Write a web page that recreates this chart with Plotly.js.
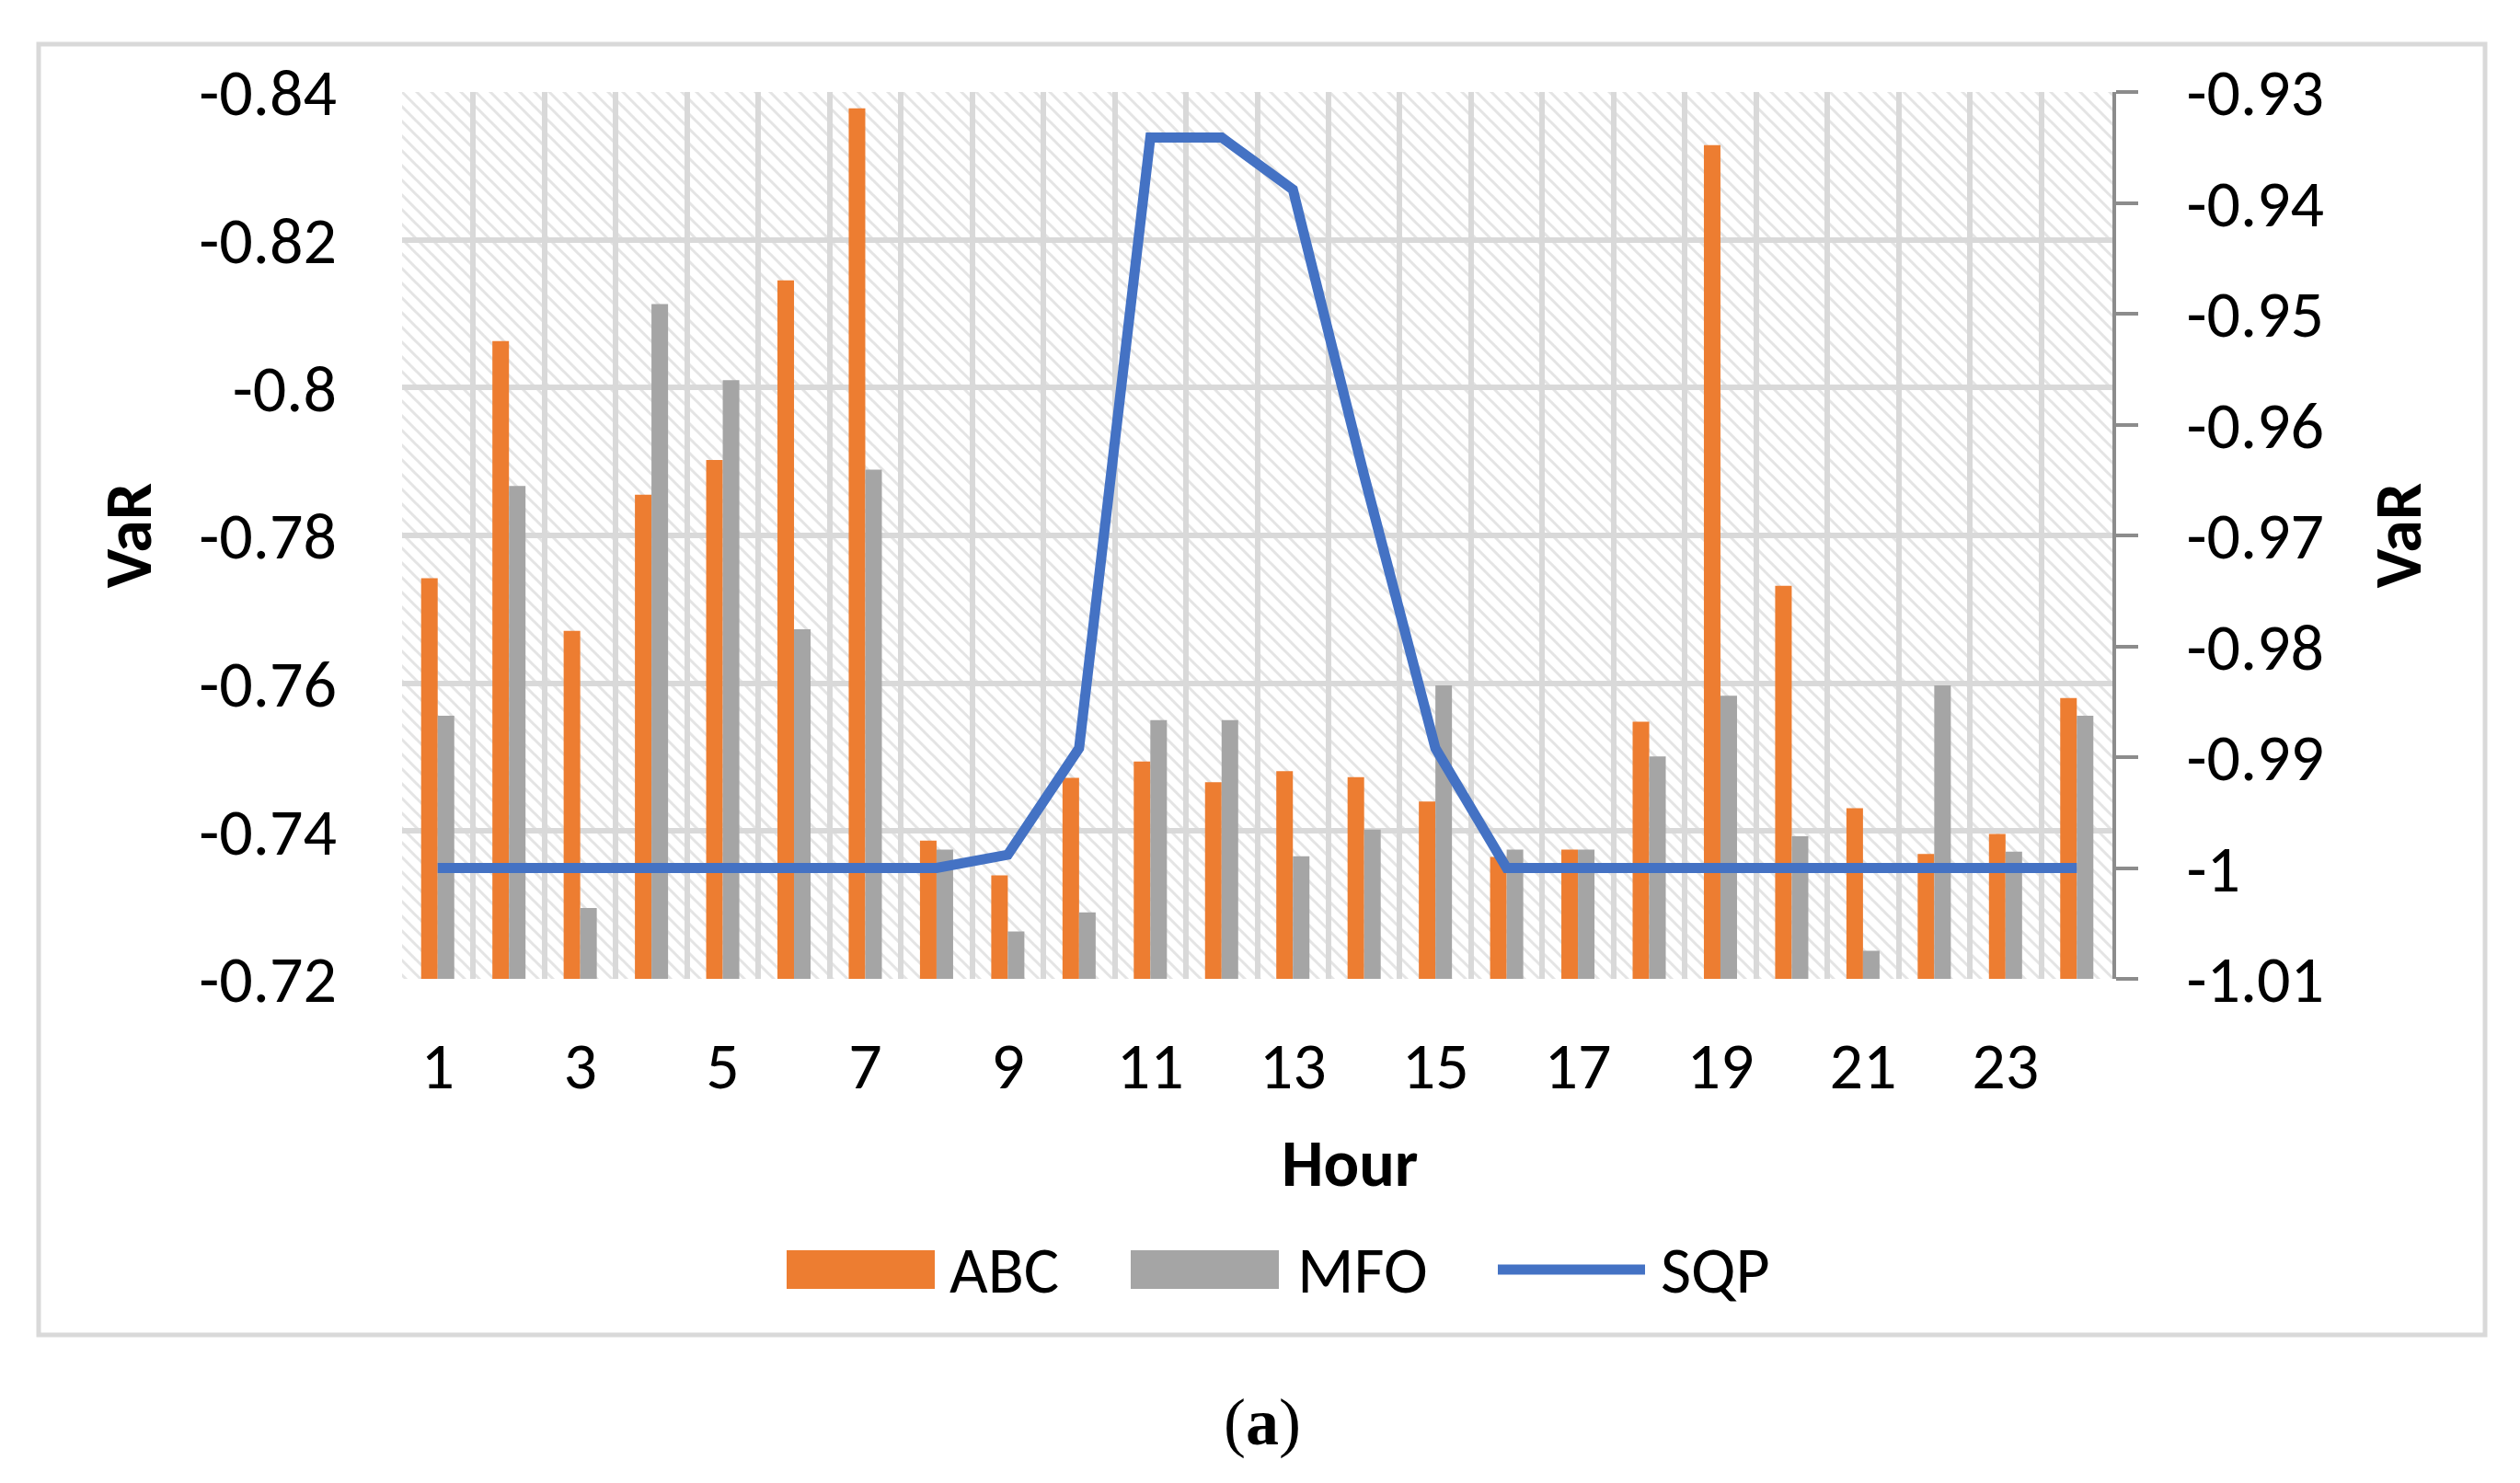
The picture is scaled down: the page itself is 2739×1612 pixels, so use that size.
<!DOCTYPE html>
<html>
<head>
<meta charset="utf-8">
<script src="https://cdn.plot.ly/plotly-3.0.1.min.js"></script>
<style>html,body{margin:0;padding:0;background:#fff;}#chart{width:2739px;height:1612px;}</style>
</head>
<body>
<div id="chart"></div>
<script>
// ---- data ----
const hours = [1,2,3,4,5,6,7,8,9,10,11,12,13,14,15,16,17,18,19,20,21,22,23,24];
const abc = [-0.7742,-0.8063,-0.7671,-0.7855,-0.7902,-0.8145,-0.8378,-0.7387,-0.7340,-0.7472,-0.7494,-0.7466,
             -0.7481,-0.7473,-0.7440,-0.7365,-0.7375,-0.7548,-0.8328,-0.7732,-0.7431,-0.7369,-0.7396,-0.7580];
const mfo = [-0.7556,-0.7867,-0.7296,-0.8113,-0.8010,-0.7673,-0.7889,-0.7375,-0.7264,-0.7290,-0.7550,-0.7550,
             -0.7366,-0.7402,-0.7597,-0.7375,-0.7375,-0.7501,-0.7583,-0.7393,-0.7238,-0.7597,-0.7372,-0.7556];
const sqp = [-1,-1,-1,-1,-1,-1,-1,-1,-0.9988,-0.9892,-0.9341,-0.9341,
             -0.9388,-0.9646,-0.9892,-1,-1,-1,-1,-1,-1,-1,-1,-1];
const xTickVals = [1,3,5,7,9,11,13,15,17,19,21,23];
const xTickText = ['1','3','5','7','9','11','13','15','17','19','21','23'];
const leftTickVals = [-0.84,-0.82,-0.80,-0.78,-0.76,-0.74,-0.72];
const leftTickText = ['-0.84','-0.82','-0.8','-0.78','-0.76','-0.74','-0.72'];
const rightTickVals = [-0.93,-0.94,-0.95,-0.96,-0.97,-0.98,-0.99,-1.00,-1.01];
const rightTickText = ['-0.93','-0.94','-0.95','-0.96','-0.97','-0.98','-0.99','-1','-1.01'];
const seriesNames = ['ABC','MFO','SQP'];
const seriesColors = ['#ED7D31','#A5A5A5','#4472C4'];

// ---- geometry ----
const W = 2739, H = 1612;
const L = 437, R = 2296, T = 100, B = 1064;
const fx = px => (px - L) / (R - L);
const fy = py => (B - py) / (B - T);
const FONT = 'Carlito, Lato, sans-serif';
const GRID = '#D9D9D9';

// hatch background for the plot area (downward diagonal)
const pw = R - L, ph = B - T;
const svg = `<svg xmlns="http://www.w3.org/2000/svg" width="${pw}" height="${ph}" viewBox="0 0 ${pw} ${ph}" preserveAspectRatio="none">` +
  `<defs><pattern id="p" width="16" height="16" patternUnits="userSpaceOnUse">` +
  `<path d="M-4,-4 L20,20 M12,-4 L20,4 M-4,12 L4,20" stroke="#E4E4E4" stroke-width="3" fill="none"/>` +
  `</pattern></defs><rect width="100%" height="100%" fill="#FFFFFF"/><rect width="100%" height="100%" fill="url(#p)"/></svg>`;
const bgSrc = 'data:image/svg+xml;charset=utf-8,' + encodeURIComponent(svg);

const traces = [
  {type:'bar', name:seriesNames[0], x:hours, y:abc, marker:{color:seriesColors[0]}, showlegend:false},
  {type:'bar', name:seriesNames[1], x:hours, y:mfo, marker:{color:seriesColors[1]}, showlegend:false},
  {type:'scatter', mode:'lines', name:seriesNames[2], x:hours, y:sqp, yaxis:'y2',
   line:{color:seriesColors[2], width:11}, showlegend:false}
];

const tickFont = {family:FONT, size:72, color:'#000'};
const titleFont = {family:FONT, size:72, color:'#000', weight:'bold'};

const legY = 1380;
const shapes = [
  {type:'rect', xref:'paper', yref:'paper', x0:fx(42), x1:fx(2701), y0:fy(48), y1:fy(1451),
   line:{color:GRID, width:5}, fillcolor:'rgba(0,0,0,0)', layer:'below'},
  {type:'rect', xref:'paper', yref:'paper', x0:fx(855), x1:fx(1016), y0:fy(legY-21), y1:fy(legY+21),
   line:{width:0}, fillcolor:seriesColors[0]},
  {type:'rect', xref:'paper', yref:'paper', x0:fx(1229), x1:fx(1390), y0:fy(legY-21), y1:fy(legY+21),
   line:{width:0}, fillcolor:seriesColors[1]},
  {type:'line', xref:'paper', yref:'paper', x0:fx(1628), x1:fx(1788), y0:fy(legY), y1:fy(legY),
   line:{color:seriesColors[2], width:11}}
];

const annotations = [
  {xref:'paper', yref:'paper', x:fx(1030), y:fy(legY), xanchor:'left', yanchor:'middle', showarrow:false,
   text:seriesNames[0], font:tickFont},
  {xref:'paper', yref:'paper', x:fx(1408), y:fy(legY), xanchor:'left', yanchor:'middle', showarrow:false,
   text:seriesNames[1], font:tickFont},
  {xref:'paper', yref:'paper', x:fx(1803), y:fy(legY), xanchor:'left', yanchor:'middle', showarrow:false,
   text:seriesNames[2], font:tickFont},
  {xref:'paper', yref:'paper', x:fx(1467), y:fy(1264), xanchor:'center', yanchor:'middle', showarrow:false,
   text:'Hour', font:titleFont},
  {xref:'paper', yref:'paper', x:fx(1372), y:fy(1546), xanchor:'center', yanchor:'middle', showarrow:false,
   text:'(<b>a</b>)', font:{family:'Liberation Serif, serif', size:72, color:'#000'}}
];

const layout = {
  width:W, height:H,
  margin:{l:L, r:W-R, t:T, b:H-B, pad:0},
  paper_bgcolor:'#FFFFFF', plot_bgcolor:'rgba(0,0,0,0)',
  barmode:'group', bargap:0.535, bargroupgap:0,
  showlegend:false,
  xaxis:{
    range:[0.5,24.5], tickmode:'array', tickvals:xTickVals, ticktext:xTickText,
    showgrid:false, zeroline:false, showline:false, ticks:'',
    tickfont:tickFont, ticklabelstandoff:46,
    minor:{tick0:0.5, dtick:1, showgrid:true, gridcolor:GRID, gridwidth:6, ticks:''}
  },
  yaxis:{
    range:[-0.72,-0.84], tickmode:'array', tickvals:leftTickVals, ticktext:leftTickText,
    showgrid:true, gridcolor:GRID, gridwidth:6, zeroline:false, showline:false, ticks:'',
    tickfont:tickFont, ticklabelstandoff:70,
    title:{text:'VaR', font:titleFont, standoff:28}
  },
  yaxis2:{
    overlaying:'y', side:'right',
    range:[-1.01,-0.93], tickmode:'array', tickvals:rightTickVals, ticktext:rightTickText,
    showgrid:false, zeroline:false, showline:true, linecolor:'#8C8C8C', linewidth:4,
    ticks:'outside', ticklen:24, tickwidth:4, tickcolor:'#8C8C8C',
    tickfont:tickFont, ticklabelstandoff:38,
    title:{text:'VaR', font:titleFont, standoff:56}
  },
  images:[{source:bgSrc, xref:'paper', yref:'paper', x:0, y:1, sizex:1, sizey:1,
           xanchor:'left', yanchor:'top', sizing:'stretch', layer:'below'}],
  shapes:shapes,
  annotations:annotations
};

Plotly.newPlot('chart', traces, layout, {displayModeBar:false, staticPlot:true});
</script>
</body>
</html>
